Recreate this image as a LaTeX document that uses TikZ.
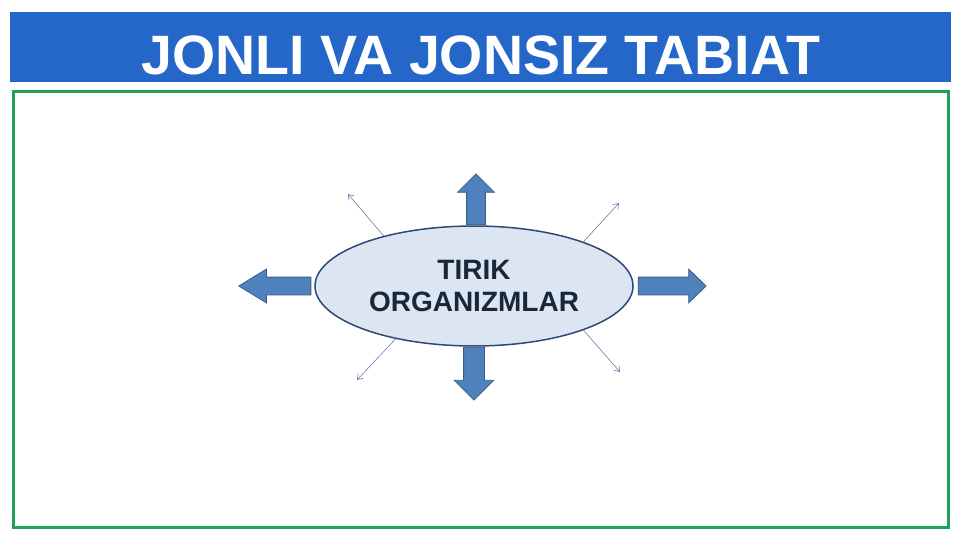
\documentclass[tikz,border=0pt]{standalone}
\usepackage{fontspec}
\setmainfont{Liberation Sans}
\usetikzlibrary{arrows.meta,shapes.geometric,shapes.arrows}
\definecolor{titleblue}{RGB}{37,103,201}
\definecolor{framegreen}{RGB}{31,161,88}
\definecolor{ellfill}{RGB}{220,230,242}
\definecolor{elldraw}{RGB}{47,72,118}
\definecolor{arrfill}{RGB}{79,129,189}
\definecolor{arrdraw}{RGB}{56,93,138}
\definecolor{thinblue}{RGB}{100,125,175}
\definecolor{textnavy}{RGB}{26,38,58}

\begin{document}
\begin{tikzpicture}[x=1pt,y=-1pt,
  blockarrow/.style={single arrow,fill=arrfill,draw=arrdraw,line width=0.8pt,inner xsep=0pt,anchor=tail},
  thinarrow/.style={-{Straight Barb[length=5pt,width=7pt]},draw=thinblue,line width=0.6pt}]
  \useasboundingbox (0,0) rectangle (961,540);

  % title bar and frame
  \fill[titleblue] (10,12) rectangle (951,82);
  \node[anchor=base,text=white,font=\bfseries\fontsize{55.5}{60}\selectfont] (title) at (481,75) {JONLI VA JONSIZ TABIAT};
  \draw[framegreen,line width=3pt] (13,92) rectangle (948,527);

  % central ellipse
  \node[ellipse,fill=ellfill,draw=elldraw,line width=1.5pt,inner sep=0pt,
        minimum width=318pt,minimum height=120pt,align=center,text=textnavy,
        font=\bfseries\fontsize{28}{32}\selectfont] (org) at (474,286) {TIRIK\\ORGANIZMLAR};

  % block arrows
  \node[blockarrow,rotate=90,inner ysep=9pt,minimum height=51pt,single arrow head extend=9pt] (up) at ([xshift=2pt]org.north) {};
  \node[blockarrow,rotate=-90,inner ysep=10pt,minimum height=53pt,single arrow head extend=9.5pt] (down) at (org.south) {};
  \node[blockarrow,rotate=180,inner ysep=8.5pt,minimum height=72pt,single arrow head extend=8pt,single arrow tip angle=63] (left) at ([xshift=-3pt]org.west) {};
  \node[blockarrow,inner ysep=8.5pt,minimum height=68pt,single arrow head extend=8pt,single arrow tip angle=88] (right) at ([xshift=4pt]org.east) {};

  % thin arrows
  \coordinate (ulend) at (348,194);
  \coordinate (urend) at (619,203);
  \coordinate (llend) at (357,380);
  \coordinate (lrend) at (620,372);
  \draw[thinarrow] (org.151) -- (ulend);
  \draw[thinarrow] (org.22) -- (urend);
  \draw[thinarrow] (org.214) -- (llend);
  \draw[thinarrow] (org.338) -- (lrend);
\end{tikzpicture}
\end{document}
